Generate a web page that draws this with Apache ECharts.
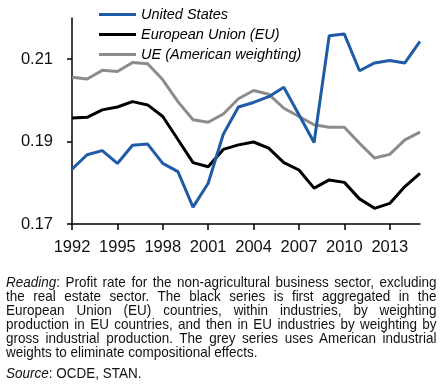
<!DOCTYPE html>
<html><head><meta charset="utf-8">
<script src="https://cdn.jsdelivr.net/npm/echarts@6/dist/echarts.min.js"></script>
<style>
html,body{margin:0;padding:0;background:#fff;}
#wrap{position:relative;width:442px;height:392px;overflow:hidden;}
#chart{position:absolute;left:0;top:0;width:442px;height:392px;}
.txt{position:absolute;left:6px;width:463px;transform:scaleX(0.93);transform-origin:0 0;font-family:"Liberation Sans",Arial,sans-serif;font-size:14.5px;line-height:14px;color:#111;text-align:justify;}
#note{top:275px;}
#src{top:366px;}
</style></head><body>
<div id="wrap">
<div id="chart"></div>
<div class="txt" id="note"><i>Reading</i>: Profit rate for the non-agricultural business sector, excluding the real estate sector. The black series is first aggregated in the European Union (EU) countries, within industries, by weighting production in EU countries, and then in EU industries by weighting by gross industrial production. The grey series uses American industrial weights to eliminate compositional effects.</div>
<div class="txt" id="src"><i>Source</i>: OCDE, STAN.</div>
</div>
<script>
const years = ['1992','1993','1994','1995','1996','1997','1998','1999','2000','2001','2002','2003','2004','2005','2006','2007','2008','2009','2010','2011','2012','2013','2014','2015'];
const seriesNames = ['United States','European Union (EU)','UE (American weighting)'];
const us = [0.1833,0.1868,0.1878,0.1847,0.1891,0.1894,0.1847,0.1827,0.1741,0.1799,0.1918,0.1984,0.1995,0.2009,0.2032,0.1965,0.1898,0.2157,0.2161,0.2072,0.2091,0.2097,0.2091,0.2143];
const eu = [0.1957,0.1959,0.1977,0.1984,0.1997,0.1989,0.1961,0.1905,0.1849,0.1839,0.1881,0.1892,0.1899,0.1884,0.1849,0.1831,0.1787,0.1807,0.1801,0.1761,0.1738,0.1750,0.1791,0.1823];
const euUS = [0.2056,0.2052,0.2073,0.2070,0.2092,0.2089,0.2050,0.1997,0.1953,0.1947,0.1967,0.2004,0.2024,0.2015,0.1981,0.1961,0.1941,0.1935,0.1935,0.1896,0.1860,0.1869,0.1904,0.1923];
const yTicks = [0.17,0.19,0.21];

const colors = ['#1f5ba6','#000000','#8c8c8c'];
const chart = echarts.init(document.getElementById('chart'), null, {renderer:'canvas'});
const lblFont = '"Liberation Sans",Arial,sans-serif';
chart.setOption({
  animation:false,
  grid:{left:72,right:22,top:18,bottom:168,containLabel:false},
  legend:{
    orient:'vertical', left:99, top:6, padding:0, icon:'rect', itemWidth:37, itemHeight:3, itemGap:3,
    textStyle:{fontFamily:lblFont,fontStyle:'italic',fontSize:14.5,color:'#000',lineHeight:17},
    data:seriesNames
  },
  xAxis:{
    type:'category', data:years, boundaryGap:false,
    axisLine:{lineStyle:{color:'#000',width:1.5}},
    axisTick:{interval:2,length:6,lineStyle:{color:'#000',width:1.5}},
    axisLabel:{interval:2,margin:15,fontFamily:lblFont,fontSize:16.5,color:'#111'},
    splitLine:{show:false}
  },
  yAxis:{
    type:'value', min:0.17, max:0.22, interval:0.02,
    axisLine:{show:true,lineStyle:{color:'#000',width:1.5}},
    axisTick:{show:true,length:5,lineStyle:{color:'#000',width:1.5}},
    axisLabel:{margin:19,fontFamily:lblFont,fontSize:16.5,color:'#111',showMaxLabel:false,
      formatter:function(v){return yTicks.some(t=>Math.abs(t-v)<1e-6)? v.toFixed(2):'';}},
    splitLine:{show:false}
  },
  series:[
    {name:seriesNames[0],type:'line',data:us,symbol:'none',lineStyle:{color:colors[0],width:3},itemStyle:{color:colors[0]},z:3},
    {name:seriesNames[1],type:'line',data:eu,symbol:'none',lineStyle:{color:colors[1],width:3},itemStyle:{color:colors[1]},z:2},
    {name:seriesNames[2],type:'line',data:euUS,symbol:'none',lineStyle:{color:colors[2],width:3},itemStyle:{color:colors[2]},z:1}
  ]
});
</script>
</body></html>
